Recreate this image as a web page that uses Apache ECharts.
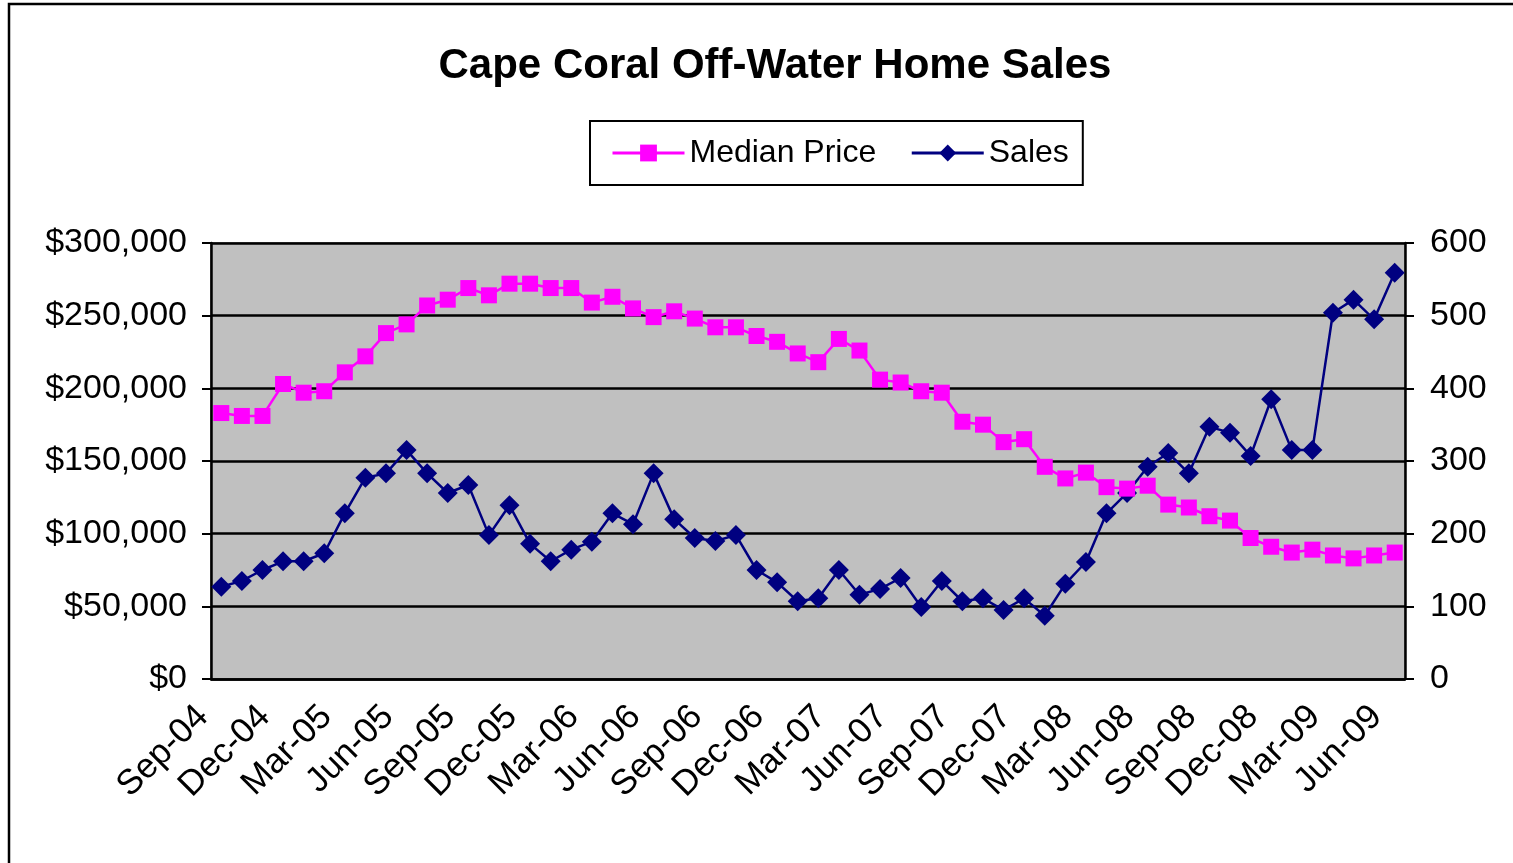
<!DOCTYPE html>
<html>
<head>
<meta charset="utf-8">
<title>Cape Coral Off-Water Home Sales</title>
<script src="https://cdn.jsdelivr.net/npm/echarts@6/dist/echarts.min.js"></script>
<style>
    html, body { margin: 0; padding: 0; background: #fff; }
    #myChart { width: 1513px; height: 863px; }
</style>
</head>
<body>
<div id="myChart"></div>
<script>
// months Sep-04 .. Jun-09
var months = [
    'Sep-04', 'Oct-04', 'Nov-04', 'Dec-04', 'Jan-05', 'Feb-05', 'Mar-05', 'Apr-05', 'May-05', 'Jun-05',
    'Jul-05', 'Aug-05', 'Sep-05', 'Oct-05', 'Nov-05', 'Dec-05', 'Jan-06', 'Feb-06', 'Mar-06', 'Apr-06',
    'May-06', 'Jun-06', 'Jul-06', 'Aug-06', 'Sep-06', 'Oct-06', 'Nov-06', 'Dec-06', 'Jan-07', 'Feb-07',
    'Mar-07', 'Apr-07', 'May-07', 'Jun-07', 'Jul-07', 'Aug-07', 'Sep-07', 'Oct-07', 'Nov-07', 'Dec-07',
    'Jan-08', 'Feb-08', 'Mar-08', 'Apr-08', 'May-08', 'Jun-08', 'Jul-08', 'Aug-08', 'Sep-08', 'Oct-08',
    'Nov-08', 'Dec-08', 'Jan-09', 'Feb-09', 'Mar-09', 'Apr-09', 'May-09', 'Jun-09'
];

var medianPrice = [
    183000, 181000, 181000, 203000, 197000, 198000, 211000, 222000, 238000, 244000,
    257000, 261000, 269000, 264000, 272000, 272000, 269000, 269000, 259000, 263000,
    255000, 249000, 253000, 248000, 242000, 242000, 236000, 232000, 224000, 218000,
    234000, 226000, 206000, 204000, 198000, 197000, 177000, 175000, 163000, 165000,
    146000, 138000, 142000, 132000, 131000, 133000, 120000, 118000, 112000, 109000,
    97000, 91000, 87000, 89000, 85000, 83000, 85000, 87000
];

var sales = [
    127, 135, 150, 162, 162, 173, 228, 277, 283, 315,
    283, 256, 267, 198, 239, 186, 162, 178, 189, 228,
    213, 283, 220, 194, 190, 198, 150, 133, 107, 111,
    150, 116, 124, 139, 99, 135, 107, 111, 95, 111,
    87, 131, 161, 228, 256, 292, 311, 283, 347, 339,
    307, 385, 315, 315, 504, 522, 495, 559
];

var priceTicks = [0, 300000, 50000];   // min, max, step
var salesTicks = [0, 600, 100];

var fontName = '"Liberation Sans", Arial, sans-serif';

var myChart = echarts.init(document.getElementById('myChart'));

var option = {
    backgroundColor: '#ffffff',
    animation: false,
    textStyle: { fontFamily: fontName, color: '#000' },
    title: {
        text: 'Cape Coral Off-Water Home Sales',
        left: 770,
        textAlign: 'center',
        top: 40,
        textStyle: { fontFamily: fontName, fontSize: 42, fontWeight: 'bold', color: '#000' }
    },
    legend: {
        data: ['Median Price', 'Sales'],
        left: 590,
        top: 121,
        padding: [16, 14, 16, 21],
        itemGap: 34,
        itemWidth: 72,
        itemHeight: 21,
        borderColor: '#000',
        borderWidth: 2,
        lineStyle: { width: 3 },
        textStyle: { fontFamily: fontName, fontSize: 32, color: '#000' }
    },
    graphic: [{
        type: 'rect',
        shape: { x: 9, y: 4, width: 1600, height: 1000 },
        style: { fill: 'none', stroke: '#000', lineWidth: 2.5 },
        silent: true
    }],
    grid: {
        left: 211,
        right: 108,
        top: 243,
        bottom: 184,
        show: true,
        backgroundColor: '#c0c0c0',
        borderColor: '#808080',
        borderWidth: 2
    },
    xAxis: {
        type: 'category',
        data: months,
        boundaryGap: true,
        axisLine: { lineStyle: { color: '#000', width: 2.5 } },
        axisTick: { interval: 2, length: 10, lineStyle: { color: '#000', width: 2 } },
        axisLabel: {
            interval: 2,
            rotate: 45,
            margin: 14,
            padding: [0, 26, 0, 0],
            fontSize: 35,
            fontFamily: fontName,
            color: '#000'
        },
        splitLine: { show: false }
    },
    yAxis: [
        {
            type: 'value',
            min: priceTicks[0],
            max: priceTicks[1],
            interval: priceTicks[2],
            axisLine: { show: true, lineStyle: { color: '#000', width: 2.5 } },
            axisTick: { show: true, length: 9, lineStyle: { color: '#000', width: 2 } },
            axisLabel: {
                margin: 24,
                fontSize: 34,
                fontFamily: fontName,
                color: '#000',
                formatter: function (v) {
                    return '$' + v.toLocaleString('en-US');
                }
            },
            splitLine: { show: true, lineStyle: { color: '#000', width: 2.5 } }
        },
        {
            type: 'value',
            min: salesTicks[0],
            max: salesTicks[1],
            interval: salesTicks[2],
            position: 'right',
            axisLine: { show: true, lineStyle: { color: '#000', width: 2.5 } },
            axisTick: { show: true, length: 9, lineStyle: { color: '#000', width: 2 } },
            axisLabel: {
                margin: 25,
                fontSize: 34,
                fontFamily: fontName,
                color: '#000'
            },
            splitLine: { show: false }
        }
    ],
    series: [
        {
            name: 'Sales',
            type: 'line',
            yAxisIndex: 1,
            data: sales,
            showAllSymbol: true,
            symbol: 'diamond',
            symbolSize: 20,
            itemStyle: { color: '#000080' },
            lineStyle: { color: '#000080', width: 2.5 }
        },
        {
            name: 'Median Price',
            type: 'line',
            yAxisIndex: 0,
            data: medianPrice,
            showAllSymbol: true,
            symbol: 'rect',
            symbolSize: 16,
            itemStyle: { color: '#ff00ff' },
            lineStyle: { color: '#ff00ff', width: 2.5 }
        }
    ]
};

myChart.setOption(option);
</script>
</body>
</html>
